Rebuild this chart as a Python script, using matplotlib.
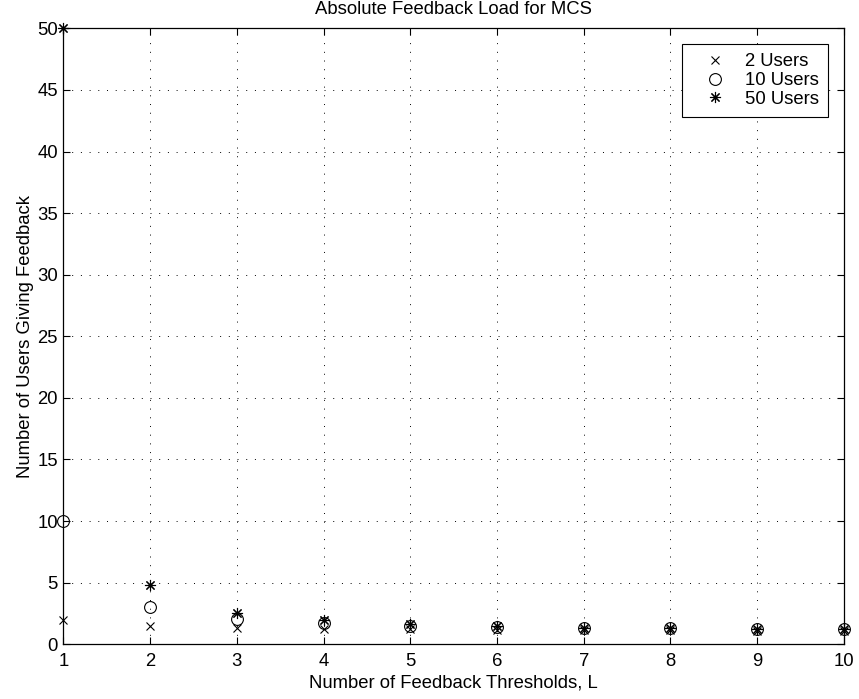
import numpy as np
import matplotlib
matplotlib.use('Agg')
import matplotlib.pyplot as plt

plt.rcParams['font.family'] = ['Liberation Sans', 'DejaVu Sans']

# number of feedback thresholds
L = [1, 2, 3, 4, 5, 6, 7, 8, 9, 10]
# users giving feedback
users_2 = [2.0, 1.5, 1.33, 1.25, 1.2, 1.17, 1.14, 1.13, 1.11, 1.1]
users_10 = [10.0, 3.0, 2.05, 1.7, 1.52, 1.4, 1.33, 1.28, 1.25, 1.22]
users_50 = [50.0, 4.8, 2.5, 1.95, 1.62, 1.45, 1.36, 1.3, 1.26, 1.23]
labels = ['2 Users', '10 Users', '50 Users']

fs = 13.3

fig = plt.figure(figsize=(8.59, 6.99), dpi=100)
ax = fig.add_axes([0.0737, 0.0783, 0.9088, 0.8812])

ax.plot(L, users_2, linestyle='none', marker='x', markersize=6, mew=0.8,
        color='black', label=labels[0], clip_on=False, zorder=5)
ax.plot(L, users_10, linestyle='none', marker='o', markersize=8.5, mew=0.8,
        markerfacecolor='none', color='black', label=labels[1], clip_on=False, zorder=5)
ax.plot(L, users_50, linestyle='none', marker=(8, 2, 0), markersize=8, mew=0.8,
        color='black', label=labels[2], clip_on=False, zorder=5)

ax.set_xlim(1, 10)
ax.set_ylim(0, 50)
ax.set_xticks(np.arange(1, 11, 1))
ax.set_yticks(np.arange(0, 51, 5))
ax.grid(color='black', linewidth=0.7, linestyle=(0, (1, 7.95)))
ax.tick_params(direction='in', top=True, right=True, labelsize=fs, length=5, width=0.8)
ax.tick_params(axis='x', pad=6)
ax.tick_params(axis='y', pad=4)
for s in ax.spines.values():
    s.set_linewidth(0.9)

ax.set_title('Absolute Feedback Load for MCS', fontsize=fs, pad=10.5)
ax.set_xlabel('Number of Feedback Thresholds, L', fontsize=fs, labelpad=3.5)
ax.set_ylabel('Number of Users Giving Feedback', fontsize=fs, labelpad=2.5)

leg = ax.legend(loc='upper right', fontsize=fs, fancybox=False, framealpha=1,
                edgecolor='black', borderaxespad=0.85, handletextpad=0.4,
                labelspacing=0.1, borderpad=0.5, handlelength=2.5)
leg.get_frame().set_linewidth(0.8)

plt.savefig('out.png', dpi=100)
